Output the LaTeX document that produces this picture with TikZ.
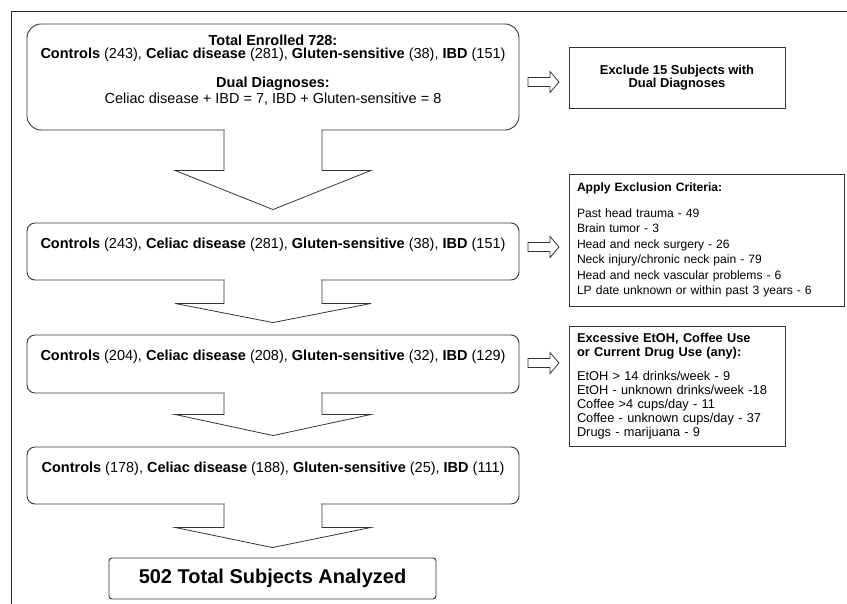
\documentclass[tikz,border=0pt]{standalone}
\usepackage{fontspec}
\setmainfont{Liberation Sans}
\usetikzlibrary{calc}

\newcommand{\groupline}[4]{\textbf{Controls} (#1), \textbf{Celiac disease} (#2), \textbf{Gluten-sensitive} (#3), \textbf{IBD} (#4)}

% big down arrow: from node, to node, shaft length, gap above target
\newcommand{\flowarrow}[4]{%
  \fill[white] ($(#1.south)+(-48.4,-1.2)$) rectangle ($(#1.south)+(48.4,1.2)$);
  \draw[flowline] ($(#1.south)+(-49,0)$) -- ++(0,#3) -- ++(-49,0) -- ($(#2.north)+(0,-#4)$)
    -- ($(#1.south)+(98,#3)$) -- ++(-49,0) -- ++(0,-#3);
}
% small arrow to the side boxes
\newcommand{\sidearrow}[1]{%
  \draw[flowline] (#1) ++(0,-4.5) -- ++(22,0) -- ++(0,-6) -- ++(9,10.5) -- ++(-9,10.5)
    -- ++(0,-6) -- ++(-22,0) -- cycle;
}

\tikzset{
  flowline/.style={draw=black!80, line width=0.8pt, line join=miter},
  stage/.style={draw=black!80, line width=0.9pt, rounded corners=8pt, minimum width=492pt,
    inner sep=0pt, align=center, font=\fontsize{14.5}{13}\selectfont},
  sidebox/.style={draw=black!80, line width=0.9pt, inner xsep=8pt, inner ysep=0pt, align=left},
}

\begin{document}
\begin{tikzpicture}[x=1pt, y=-1pt]
  \useasboundingbox (0,0) rectangle (847,604);

  % Frame
  \draw[line width=1pt, black!85] (847,12) -- (11,12) -- (11,604);

  % Stage boxes
  \node[stage, rounded corners=14pt, minimum height=106pt, text depth=16pt] (enrolled) at (273,77)
    {\textbf{Total Enrolled 728:}\\ \groupline{243}{281}{38}{151}\\[15pt]
     \textbf{Dual Diagnoses:}\\[1pt] Celiac disease + IBD = 7, IBD + Gluten-sensitive = 8};
  \node[stage, minimum height=57pt, text height=9pt, text depth=15pt] (single) at (273,251.5)
    {\groupline{243}{281}{38}{151}};
  \node[stage, minimum height=58pt, text height=9pt, text depth=15pt] (criteria) at (273,364)
    {\groupline{204}{208}{32}{129}};
  \node[stage, minimum height=57pt, text height=9pt, text depth=15pt] (use) at (273,475.5)
    {\groupline{178}{188}{25}{111}};
  \node[draw=black!80, line width=0.9pt, rounded corners=3pt, minimum width=327pt, minimum height=41pt,
    font=\fontsize{20}{22}\selectfont\bfseries] (total) at (272.5,578.5) {502 Total Subjects Analyzed};

  % Down arrows
  \flowarrow{enrolled}{single}{40}{13}
  \flowarrow{single}{criteria}{23}{12}
  \flowarrow{criteria}{use}{21}{11}
  \flowarrow{use}{total}{23}{10}

  % Side boxes
  \node[sidebox, minimum width=216pt, minimum height=61pt, align=center,
    font=\fontsize{12.9}{13}\selectfont\bfseries] (dual) at (677,77.5)
    {Exclude 15 Subjects with\\ Dual Diagnoses};
  \node[sidebox, text width=259pt, minimum height=132pt, font=\fontsize{12.1}{15.5}\selectfont] (exclude) at (706.5,240)
    {\textbf{Apply Exclusion Criteria:}\\[10.5pt]
     Past head trauma - 49\\ Brain tumor - 3\\ Head and neck surgery - 26\\
     Neck injury/chronic neck pain - 79\\ Head and neck vascular problems - 6\\
     LP date unknown or within past 3 years - 6};
  \node[sidebox, text width=200pt, minimum height=120pt, font=\fontsize{12.8}{14}\selectfont] (drugs) at (677,386)
    {\textbf{Excessive EtOH, Coffee Use}\\ \textbf{or Current Drug Use (any):}\\[10pt]
     EtOH > 14 drinks/week - 9\\ EtOH - unknown drinks/week -18\\ Coffee >4 cups/day - 11\\
     Coffee - unknown cups/day - 37\\ Drugs - marijuana - 9\par\vspace{10pt}};

  % Side arrows
  \coordinate (ex1) at (528,82);
  \coordinate (ex2) at (528,247);
  \coordinate (ex3) at (528,363);
  \sidearrow{ex1}
  \sidearrow{ex2}
  \sidearrow{ex3}
\end{tikzpicture}
\end{document}
